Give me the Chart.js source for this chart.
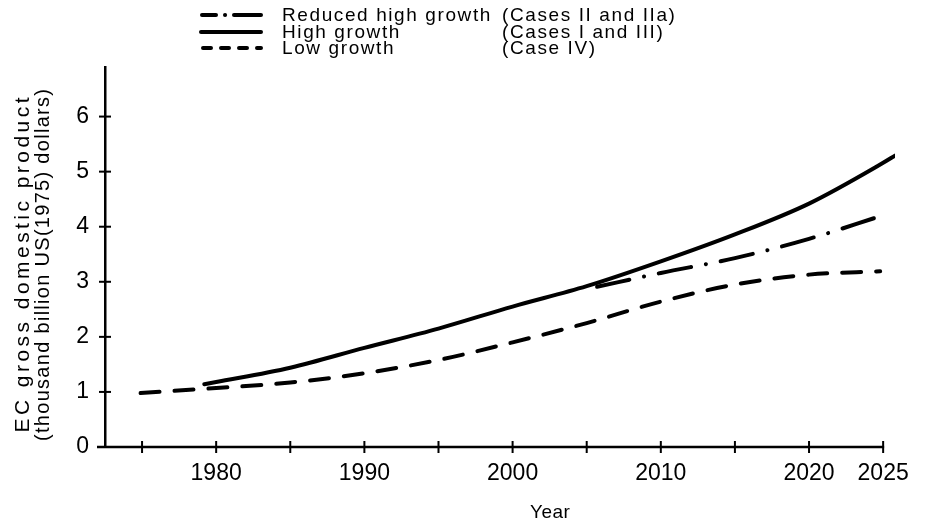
<!DOCTYPE html>
<html><head><meta charset="utf-8">
<script src="https://cdn.jsdelivr.net/npm/chart.js@4/dist/chart.umd.min.js"></script>
<style>html,body{margin:0;padding:0;background:#fff}#wrap{width:925px;height:526px}</style>
</head><body><div id="wrap"><canvas id="c" width="925" height="526"></canvas></div>
<script>
// ---- data ----
const seriesNames = ['Reduced high growth', 'High growth', 'Low growth'];
const seriesCases = ['(Cases II and IIa)', '(Cases I and III)', '(Case IV)'];
const highYears = [1979.2, 1980, 1985, 1990, 1995, 2000, 2005, 2010, 2015, 2020, 2025, 2025.8];
const highValues = [1.14, 1.18, 1.44, 1.80, 2.15, 2.55, 2.92, 3.37, 3.86, 4.42, 5.16, 5.29];
const reducedYears = [2005.7, 2010, 2015, 2020, 2024.8];
const reducedValues = [2.91, 3.16, 3.43, 3.78, 4.19];
const lowYears = [1974.9, 1980, 1985, 1990, 1995, 2000, 2005, 2010, 2015, 2020, 2024.8];
const lowValues = [0.98, 1.07, 1.17, 1.34, 1.58, 1.90, 2.25, 2.64, 2.95, 3.13, 3.19];
const xTickValues = [1975, 1980, 1985, 1990, 1995, 2000, 2005, 2010, 2015, 2020, 2025];
const xTickLabels = ['', '1980', '', '1990', '', '2000', '', '2010', '', '2020', '2025'];
const yTickValues = [0, 1, 2, 3, 4, 5, 6];
const yTickLabels = ['0', '1', '2', '3', '4', '5', '6'];
const yTitleLines = ['EC gross domestic product', '(thousand billion US(1975) dollars)'];
const xTitle = 'Year';

const toPts = (xs, ys) => xs.map((x, i) => ({x: x, y: ys[i]}));
const FONT = '"Liberation Sans", Arial, sans-serif';

const dashDot = [33, 15, 0.1, 15];
const dashed = [19, 15];

function spacedText(ctx, text, x, y, ls, align) {
  ctx.letterSpacing = ls + 'px';
  const w = ctx.measureText(text).width;
  let sx = x;
  if (align === 'center') sx = x - (w - ls) / 2;
  ctx.textAlign = 'left';
  ctx.fillText(text, sx, y);
  ctx.letterSpacing = '0px';
}
function fittedText(ctx, text, cx, y, target) {
  ctx.letterSpacing = '0px';
  const w0 = ctx.measureText(text).width;
  const ls = Math.max(0, (target - w0) / (text.length - 1));
  spacedText(ctx, text, cx, y, ls, 'center');
}

const decor = {
  id: 'decor',
  afterDraw(chart) {
    const ctx = chart.ctx;
    const xs = chart.scales.x, ys = chart.scales.y;
    const L = chart.chartArea.left, B = chart.chartArea.bottom;
    ctx.save();
    ctx.strokeStyle = '#000';
    ctx.fillStyle = '#000';
    ctx.setLineDash([]);
    ctx.lineWidth = 2.5;
    ctx.lineCap = 'butt';
    ctx.beginPath(); ctx.moveTo(L - 8, B); ctx.lineTo(xs.getPixelForValue(xTickValues[xTickValues.length - 1]) + 1, B); ctx.stroke();
    ctx.lineWidth = 2;
    yTickValues.forEach(v => {
      if (v === 0) return;
      const p = ys.getPixelForValue(v);
      ctx.beginPath(); ctx.moveTo(L - 6, p); ctx.lineTo(L + 6, p); ctx.stroke();
    });
    xTickValues.forEach(v => {
      const p = xs.getPixelForValue(v);
      ctx.beginPath(); ctx.moveTo(p, B - 6); ctx.lineTo(p, B + 6); ctx.stroke();
    });

    // legend
    const rows = [15, 32, 48];
    const x0 = 202, x1 = 261;
    ctx.lineWidth = 4;
    ctx.lineCap = 'round';
    ctx.beginPath(); ctx.moveTo(x0, rows[0]); ctx.lineTo(216, rows[0]); ctx.stroke();
    ctx.beginPath(); ctx.moveTo(225, rows[0]); ctx.lineTo(225.1, rows[0]); ctx.stroke();
    ctx.beginPath(); ctx.moveTo(234, rows[0]); ctx.lineTo(x1, rows[0]); ctx.stroke();
    ctx.beginPath(); ctx.moveTo(x0 - 1, rows[1]); ctx.lineTo(x1, rows[1]); ctx.stroke();
    ctx.setLineDash([8, 10]);
    ctx.beginPath(); ctx.moveTo(x0 + 1, rows[2]); ctx.lineTo(x1, rows[2]); ctx.stroke();
    ctx.setLineDash([]);

    ctx.font = '19px ' + FONT;
    ctx.textBaseline = 'middle';
    for (let i = 0; i < 3; i++) {
      spacedText(ctx, seriesNames[i], 282, rows[i] + 1, 1.6, 'left');
      spacedText(ctx, seriesCases[i], 502, rows[i] + 1, 1.6, 'left');
    }

    ctx.font = '19px ' + FONT;
    spacedText(ctx, xTitle, 550, 513, 0.5, 'center');

    ctx.save();
    ctx.translate(23, 265);
    ctx.rotate(-Math.PI / 2);
    ctx.font = '21px ' + FONT;
    fittedText(ctx, yTitleLines[0], 0, 0, 335);
    ctx.font = '20px ' + FONT;
    fittedText(ctx, yTitleLines[1], 0, 20, 352);
    ctx.restore();

    ctx.restore();
  }
};

new Chart(document.getElementById('c'), {
  type: 'line',
  data: {
    datasets: [
      {label: seriesNames[0], data: toPts(reducedYears, reducedValues), borderColor: '#000', borderWidth: 4,
       borderDash: dashDot, borderCapStyle: 'round', pointRadius: 0, cubicInterpolationMode: 'monotone'},
      {label: seriesNames[1], data: toPts(highYears, highValues), borderColor: '#000', borderWidth: 4,
       borderCapStyle: 'round', pointRadius: 0, cubicInterpolationMode: 'monotone'},
      {label: seriesNames[2], data: toPts(lowYears, lowValues), borderColor: '#000', borderWidth: 4,
       borderDash: dashed, borderCapStyle: 'round', pointRadius: 0, cubicInterpolationMode: 'monotone'}
    ]
  },
  options: {
    responsive: false,
    animation: false,
    events: [],
    layout: {padding: {left: 0, top: 67, right: 30, bottom: 0}},
    plugins: {legend: {display: false}, tooltip: {enabled: false}, title: {display: false}},
    scales: {
      x: {
        type: 'linear', min: 1972.5, max: 2025.8,
        afterBuildTicks: s => { s.ticks = xTickValues.map(v => ({value: v})); },
        afterFit: s => { s.height = 79; },
        ticks: {
          autoSkip: false, maxRotation: 0, padding: 13, color: '#000',
          font: {family: FONT, size: 23},
          callback: (v, i) => xTickLabels[i]
        },
        grid: {display: false, drawTicks: false},
        border: {display: false}
      },
      y: {
        type: 'linear', min: 0, max: 6.9,
        afterBuildTicks: s => { s.ticks = yTickValues.map(v => ({value: v})); },
        afterFit: s => { s.width = 105; },
        ticks: {
          padding: 16, color: '#000',
          font: {family: FONT, size: 23},
          callback: (v, i) => yTickLabels[i]
        },
        grid: {display: false, drawTicks: false},
        border: {display: true, color: '#000', width: 2.5}
      }
    }
  },
  plugins: [decor]
});
</script></body></html>
